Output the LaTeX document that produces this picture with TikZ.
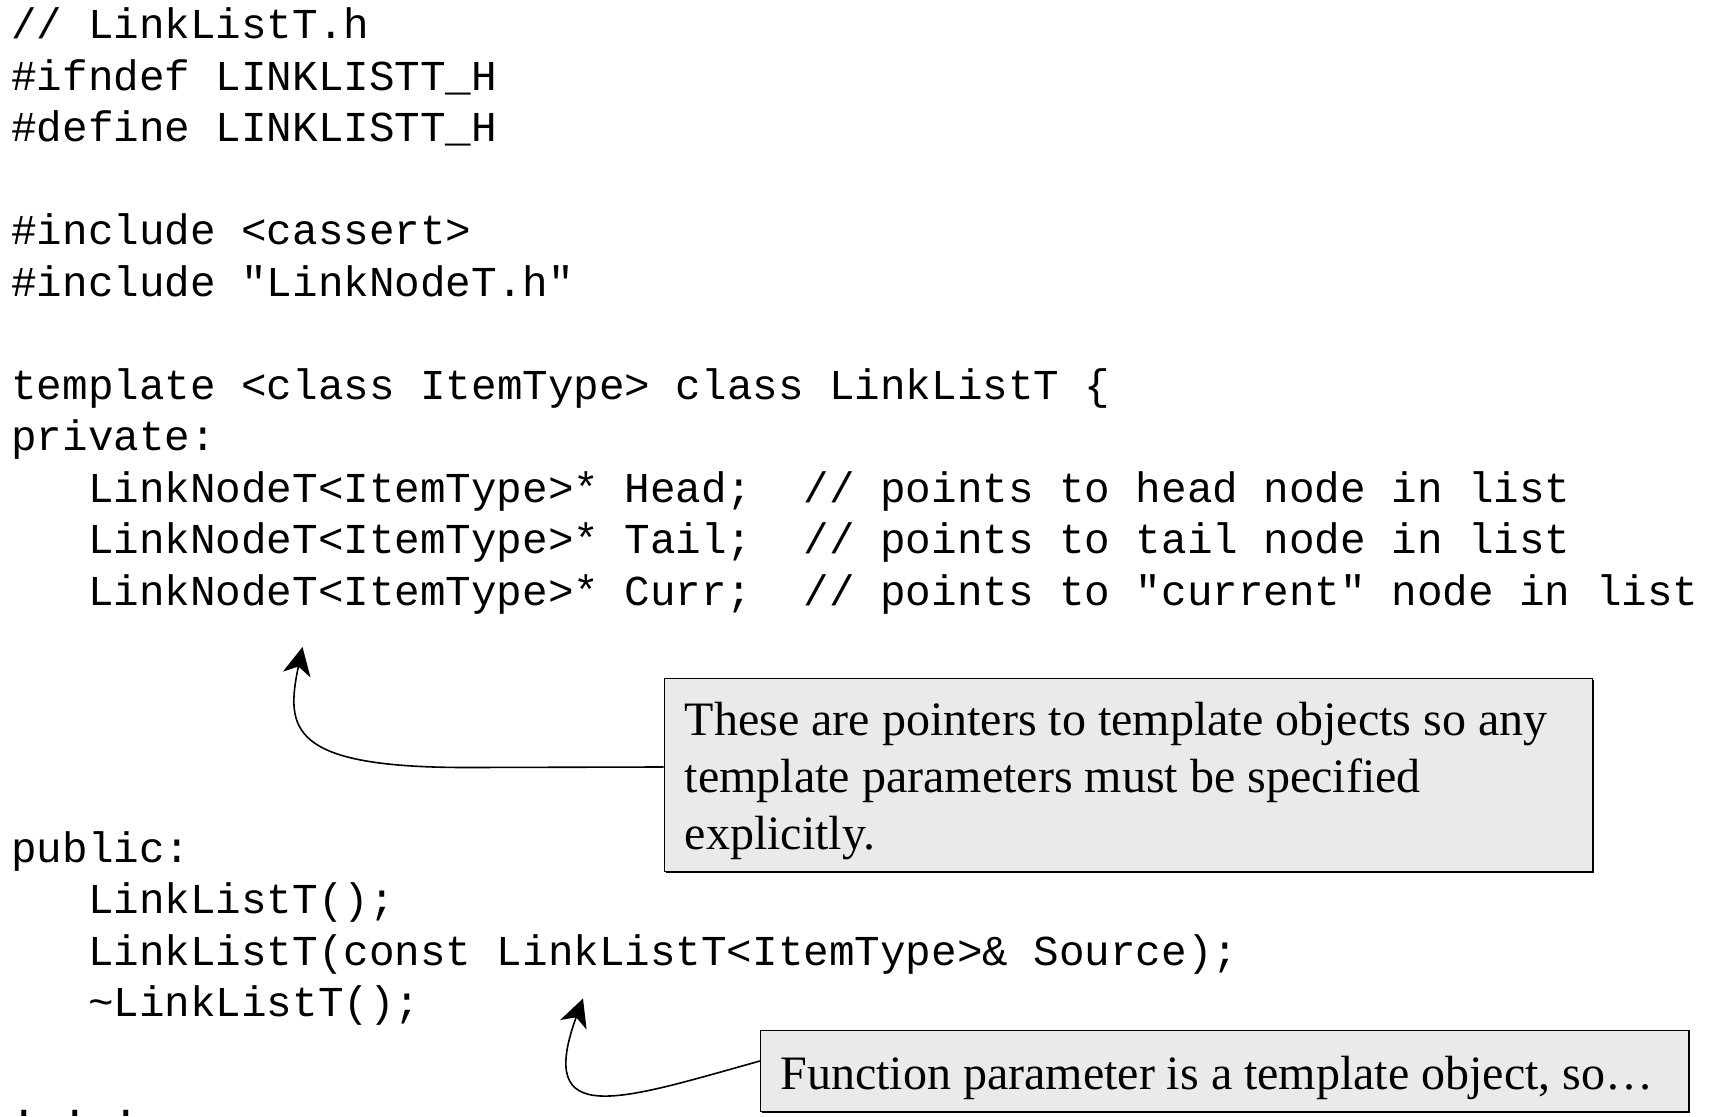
\documentclass[tikz,border=0pt]{standalone}
\usepackage{fontspec}
\setmainfont{Liberation Serif}
\newfontfamily\codefont{Liberation Mono}
\usetikzlibrary{arrows.meta,shadows}
\definecolor{boxgray}{RGB}{234,234,234}
\frenchspacing
\begin{document}
\begin{tikzpicture}[x=0.5pt,y=-0.5pt,
  code/.style={anchor=base west, inner sep=0pt, font=\codefont\fontsize{21.3pt}{25pt}\selectfont},
  note/.style={anchor=base west, inner sep=0pt, font=\fontsize{24pt}{28pt}\selectfont},
  callout/.style={draw=black, line width=0.6pt, fill=boxgray, anchor=north west, inner sep=0pt,
    drop shadow={shadow xshift=0.7pt, shadow yshift=-0.7pt, fill=black, opacity=1}},
  pointer/.style={line width=0.8pt, -{Stealth[length=14pt,width=14pt,inset=4pt]}}]
\useasboundingbox (0,0) rectangle (1709,1117);
% code lines: baseline = 39 + 51.45*i
\node[code] (l0)  at (11,39)      {// LinkListT.h};
\node[code] (l1)  at (11,90.5)    {\#ifndef LINKLISTT\_H};
\node[code] (l2)  at (11,141.9)   {\#define LINKLISTT\_H};
\node[code] (l4)  at (11,244.8)   {\#include <cassert>};
\node[code] (l5)  at (11,296.3)   {\#include "LinkNodeT.h"};
\node[code] (l7)  at (11,399.2)   {template <class ItemType> class LinkListT \{};
\node[code] (l8)  at (11,450.6)   {private:};
\node[code] (l9)  at (87.6,502.1) {LinkNodeT<ItemType>* Head;~~// points to head node in list};
\node[code] (l10) at (87.6,553.5) {LinkNodeT<ItemType>* Tail;~~// points to tail node in list};
\node[code] (l11) at (87.6,605)   {LinkNodeT<ItemType>* Curr;~~// points to "current" node in list};
\node[code] (l16) at (11,862.2)   {public:};
\node[code] (l17) at (87.6,913.7) {LinkListT();};
\node[code] (l18) at (87.6,965.1) {LinkListT(const LinkListT<ItemType>\& Source);};
\node[code] (l19) at (87.6,1016.6){\textasciitilde LinkListT();};
\node[code] (l21) at (11,1116.5)  {. . .};
% callout boxes
\node[callout, minimum width=464.1pt, minimum height=96.6pt] (box1) at (663.5,677.5) {};
\node[note] (t1a) at (684.5,735)   {These are pointers to template objects so any};
\node[note] (t1b) at (684.5,792.3) {template parameters must be specified};
\node[note] (t1c) at (684.5,849.6) {explicitly.};
\node[callout, minimum width=464.2pt, minimum height=40.3pt] (box2) at (760,1030) {};
\node[note] (t2) at (780,1089) {Function parameter is a template object, so\textellipsis};
% arrows
\path (box1.north west) ++(0,89.5) coordinate (s1);
\coordinate (tip1) at (302.5,647);
\draw[pointer] (s1) -- (470,767.5) .. controls (290,768) and (285,730) .. (tip1);
\path (box2.north west) ++(0,31) coordinate (s2);
\coordinate (tip2) at (583,998.5);
\draw[pointer] (s2) .. controls (620,1100) and (535,1130) .. (tip2);
\end{tikzpicture}
\end{document}
